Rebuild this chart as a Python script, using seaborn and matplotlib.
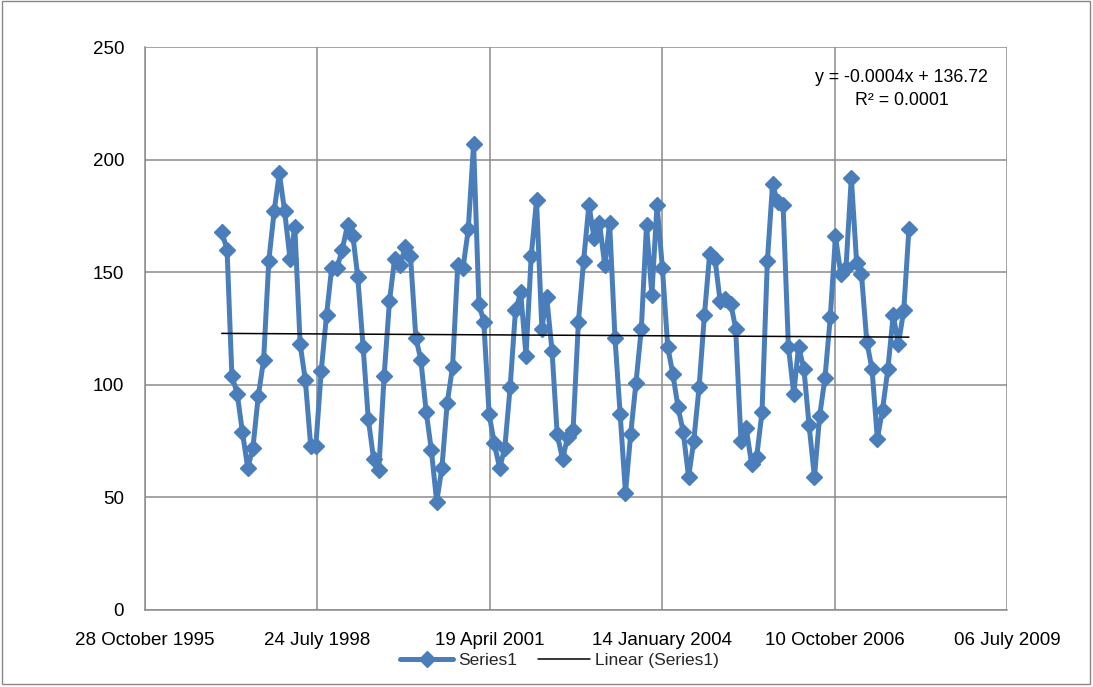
import numpy as np
import pandas as pd
import matplotlib
matplotlib.use("Agg")
import matplotlib.pyplot as plt
import matplotlib.dates as mdates
from matplotlib.lines import Line2D
from matplotlib.patches import Rectangle
import seaborn as sns

# monthly values, Jan 1997 .. Dec 2007
values = [
    168, 160, 104, 96, 79, 63, 72, 95, 111, 155, 177, 194,   # 1997
    177, 156, 170, 118, 102, 73, 73, 106, 131, 152, 152, 160,  # 1998
    171, 166, 148, 117, 85, 67, 62, 104, 137, 156, 153, 161,   # 1999
    157, 121, 111, 88, 71, 48, 63, 92, 108, 153, 152, 169,     # 2000
    207, 136, 128, 87, 74, 63, 72, 99, 133, 141, 113, 157,     # 2001
    182, 125, 139, 115, 78, 67, 77, 80, 128, 155, 180, 165,    # 2002
    172, 153, 172, 121, 87, 52, 78, 101, 125, 171, 140, 180,   # 2003
    152, 117, 105, 90, 79, 59, 75, 99, 131, 158, 156, 137,     # 2004
    138, 136, 125, 75, 81, 65, 68, 88, 155, 189, 181, 180,     # 2005
    117, 96, 117, 107, 82, 59, 86, 103, 130, 166, 149, 152,    # 2006
    192, 154, 149, 119, 107, 76, 89, 107, 131, 118, 133, 169,  # 2007
]
dates = pd.date_range("1997-01-01", periods=len(values), freq="MS") + pd.Timedelta(days=14)
tick_dates = pd.date_range("1995-10-28", periods=6, freq="1000D")
eq_label = "y = -0.0004x + 136.72\nR² = 0.0001"
series_name = "Series1"
trend_name = "Linear (Series1)"

df = pd.DataFrame({"x": mdates.date2num(dates), "y": values})

sns.set_theme(style="white")
plt.rcParams["font.family"] = ["Liberation Sans", "DejaVu Sans"]

BLUE = "#4a7ebb"
GRID = "#8c8c8c"

fig = plt.figure(figsize=(10.93, 6.87), dpi=100)
ax = fig.add_axes([145 / 1093, 1 - 610 / 687, 862 / 1093, 563 / 687])

# data line with diamond markers
sns.lineplot(data=df, x="x", y="y", ax=ax, color=BLUE, lw=3.6, marker="D",
             markersize=8.5, markeredgecolor=BLUE, markeredgewidth=1, zorder=3)
# linear trend line over the data range
sns.regplot(data=df, x="x", y="y", ax=ax, scatter=False, ci=None, truncate=True,
            line_kws={"color": "black", "lw": 1.1, "zorder": 4})

ax.set_xlim(mdates.date2num(tick_dates[0]), mdates.date2num(tick_dates[-1]))
ax.set_ylim(0, 250)
ax.set_xticks(mdates.date2num(tick_dates))
ax.xaxis.set_major_formatter(mdates.DateFormatter("%d %B %Y"))
ax.set_yticks(np.arange(0, 251, 50))
ax.set_xlabel("")
ax.set_ylabel("")
ax.grid(True, color=GRID, lw=1.1)
ax.set_axisbelow(True)
for s in ["top", "right"]:
    ax.spines[s].set_visible(False)
for s in ["left", "bottom"]:
    ax.spines[s].set_color(GRID)
    ax.spines[s].set_linewidth(1.1)
ax.tick_params(axis="both", which="major", direction="out", length=5, width=1,
               color=GRID, labelsize=13.5, labelcolor="black")
ax.tick_params(axis="x", pad=11)
ax.tick_params(axis="y", pad=10)

ax.text(0.878, 0.925, eq_label, transform=ax.transAxes, ha="center", va="center",
        fontsize=12.8, linespacing=1.45, color="black")

handles = [Line2D([], [], color=BLUE, lw=3.6, marker="D", markersize=8.5),
           Line2D([], [], color="black", lw=1.1)]
fig.legend(handles, [series_name, trend_name], loc="center", ncol=2,
           bbox_to_anchor=(0.512, 0.039), frameon=False, fontsize=12.5,
           handlelength=3, columnspacing=1.2, handletextpad=0.3)

fig.patches.append(Rectangle((0.002, 0.004), 0.995, 0.994, transform=fig.transFigure,
                             fill=False, edgecolor="#888888", lw=1))

fig.savefig("out.png", dpi=100)
